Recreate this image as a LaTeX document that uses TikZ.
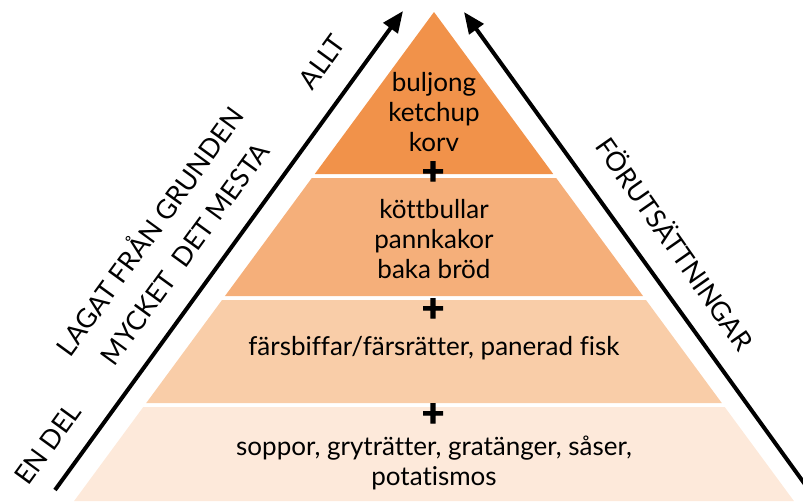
\documentclass[tikz,border=0pt]{standalone}
\usepackage{fontspec}
\setmainfont{Lato}[Ligatures=NoCommon]
\newfontfamily\plusfont{Lato}[FakeBold=3]
\usetikzlibrary{arrows.meta}

\definecolor{tierA}{RGB}{241,146,74}
\definecolor{tierB}{RGB}{245,175,122}
\definecolor{tierC}{RGB}{249,205,168}
\definecolor{tierD}{RGB}{253,233,218}

\tikzset{
  tiertext/.style={align=center, font=\fontsize{19.5}{22.8}\selectfont},
  sidetext/.style={font=\fontsize{20}{22}\selectfont},
  plussign/.style={font=\plusfont\bfseries\fontsize{29}{29}\selectfont, inner sep=0pt},
  bigarrow/.style={line width=3pt, -{Triangle[length=16pt,width=13pt]}}
}

\begin{document}
\begin{tikzpicture}[x=0.75pt,y=-0.75pt]
  \useasboundingbox (0,0) rectangle (803,501);
  \clip (0,0) rectangle (803,501);
  % pyramid tiers
  \foreach \ytop/\ybot/\col in {12/174/tierA, 178/296/tierB, 300/403/tierC, 407/501/tierD}
    \fill[\col] ({434-0.736*(\ytop-12)},\ytop) -- ({434+0.736*(\ytop-12)},\ytop)
      -- ({434+0.736*(\ybot-12)},\ybot) -- ({434-0.736*(\ybot-12)},\ybot) -- cycle;

  \node[tiertext] (top) at (434,112) {buljong\\ketchup\\korv};
  \node[tiertext] (second) at (434,239) {köttbullar\\pannkakor\\baka bröd};
  \node[tiertext] (third) at (434,348) {färsbiffar/färsrätter, panerad fisk};
  \node[tiertext] (base) at (434,463) {soppor, gryträtter, gratänger, såser,\\potatismos};

  \node[plussign] (plusA) at (433,173) {+};
  \node[plussign] (plusB) at (433,310) {+};
  \node[plussign] (plusC) at (433,415) {+};

  % arrows
  \coordinate (leftfoot) at (55,490);
  \coordinate (lefttip) at (403,11);
  \coordinate (rightfoot) at (817,501);
  \coordinate (righttip) at (464,12);
  \draw [bigarrow] (leftfoot) -- (lefttip);
  \draw [bigarrow] (rightfoot) -- (righttip);

  \node[sidetext, rotate=54] (allt) at (322,62) {ALLT};
  \node[sidetext, rotate=54] (grunden) at (148,230) {LAGAT FRÅN GRUNDEN};
  \node[sidetext, rotate=54] (mesta) at (185,254) {MYCKET\ \ DET MESTA};
  \node[sidetext, rotate=54] (endel) at (48,444) {EN DEL};
  \node[sidetext, rotate=-55] (villkor) at (676,243) {FÖRUTSÄTTNINGAR};
\end{tikzpicture}
\end{document}
